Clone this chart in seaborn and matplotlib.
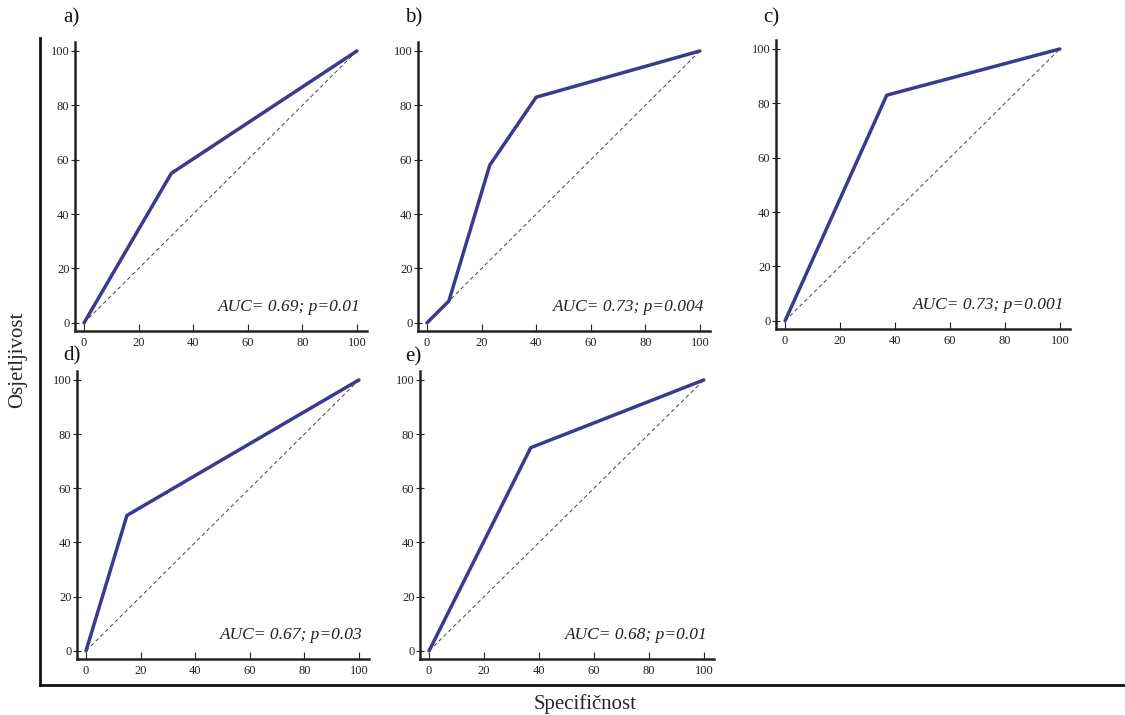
"""ROC curves for five predictors (panels a-e)."""

import matplotlib
matplotlib.use("Agg")
import matplotlib.pyplot as plt
import pandas as pd
import seaborn as sns

# ROC points: 100 - specificity (x) vs sensitivity (y)
panels = ["a)", "b)", "c)", "d)", "e)"]
roc_x = [
    [0, 32, 100],
    [0, 8, 23, 40, 100],
    [0, 37, 100],
    [0, 15, 100],
    [0, 37, 100],
]
roc_y = [
    [0, 55, 100],
    [0, 8, 58, 83, 100],
    [0, 83, 100],
    [0, 50, 100],
    [0, 75, 100],
]
auc_labels = [
    "AUC= 0.69; p=0.01",
    "AUC= 0.73; p=0.004",
    "AUC= 0.73; p=0.001",
    "AUC= 0.67; p=0.03",
    "AUC= 0.68; p=0.01",
]
ticks = [0, 20, 40, 60, 80, 100]

sns.set_style("ticks")
plt.rcParams["font.family"] = ["Liberation Serif", "DejaVu Serif"]

W, H = 1125, 715
fig = plt.figure(figsize=(W / 100, H / 100), dpi=100)

# axes rectangles in pixels: left, top, right, bottom
rects_px = [
    (75, 42, 367, 331),
    (418, 42, 710, 331),
    (776, 40, 1070, 329),
    (77, 371, 369, 659),
    (420, 371, 714, 659),
]
label_px = [(63, 18), (405, 18), (763, 18), (63, 356), (405, 357)]

line_color = "#3a3a8e"

for i, name in enumerate(panels):
    l, t, r, b = rects_px[i]
    ax = fig.add_axes([l / W, 1 - b / H, (r - l) / W, (b - t) / H])
    df = pd.DataFrame({"x": roc_x[i], "y": roc_y[i]})
    sns.lineplot(data=df, x="x", y="y", ax=ax, sort=False,
                 color=line_color, linewidth=2.5)
    diag = pd.DataFrame({"x": [0, 100], "y": [0, 100]})
    sns.lineplot(data=diag, x="x", y="y", ax=ax, color="#444444",
                 linewidth=0.7, linestyle=(0, (4, 3)))
    ax.set_xlim(-3.3, 103.7)
    ax.set_ylim(-3.0, 103.3)
    ax.set_xticks(ticks)
    ax.set_yticks(ticks)
    ax.set_xlabel("")
    ax.set_ylabel("")
    sns.despine(ax=ax)
    for side in ("left", "bottom"):
        ax.spines[side].set_linewidth(1.8)
        ax.spines[side].set_color("#222222")
    ax.tick_params(axis="x", direction="in", length=5, width=0.8,
                   labelsize=9, colors="#222222", pad=4)
    ax.tick_params(axis="y", direction="inout", length=6, width=0.8,
                   labelsize=9, colors="#222222", pad=1)
    ax.text(101.5, 3, auc_labels[i], ha="right", va="bottom",
            style="italic", fontsize=12.5, color="#222222")
    fig.text(label_px[i][0] / W, 1 - label_px[i][1] / H, name,
             ha="left", va="center", fontsize=15, color="#111111")

# outer frame holding the shared axis titles
frame = fig.add_axes([40 / W, 1 - 685 / H, 1 - 40 / W, (685 - 38) / H])
frame.patch.set_alpha(0)
frame.set_xticks([])
frame.set_yticks([])
sns.despine(ax=frame)
for side in ("left", "bottom"):
    frame.spines[side].set_linewidth(2)
    frame.spines[side].set_color("#111111")

fig.text(18 / W, 1 - 360 / H, "Osjetljivost", rotation=90,
         ha="center", va="center", fontsize=15)
fig.text(585 / W, 1 - 704 / H, "Specifičnost",
         ha="center", va="center", fontsize=15)

fig.savefig("out.png", dpi=100, facecolor="white")
